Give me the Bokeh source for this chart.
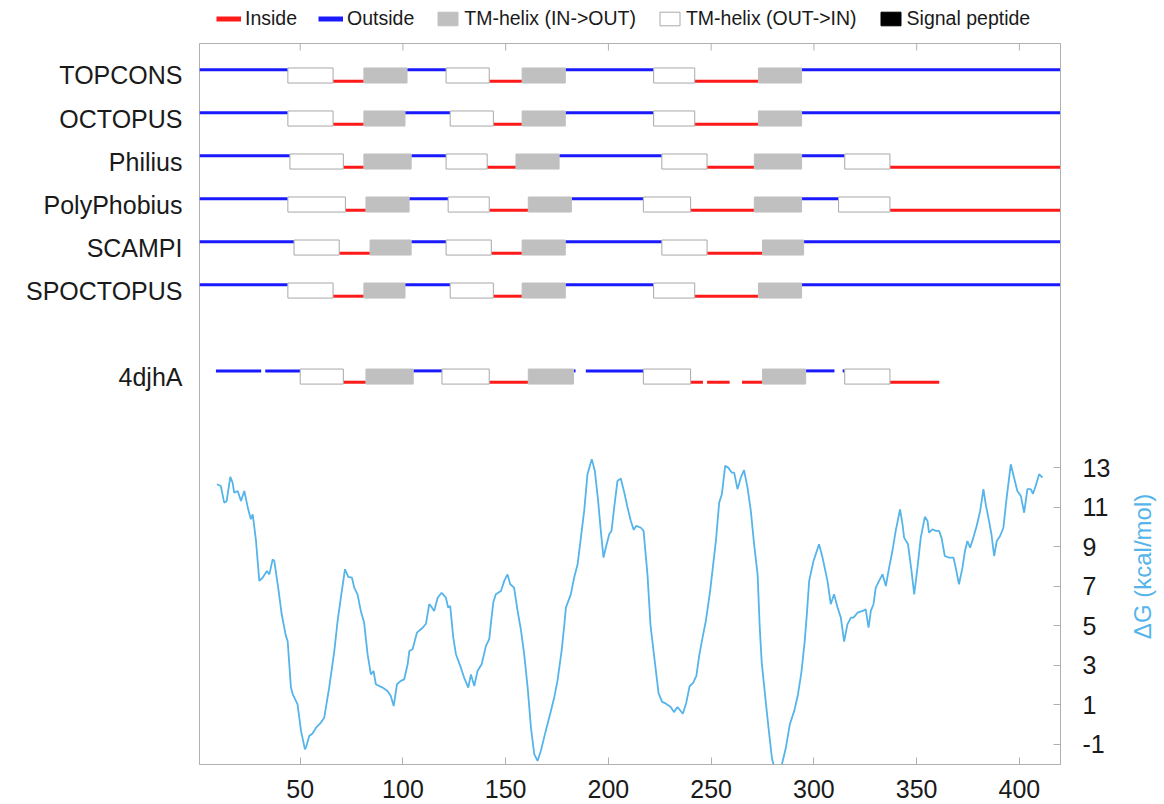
from math import pi
from bokeh.plotting import figure
from bokeh.layouts import column, row
from bokeh.models import (Range1d, LinearAxis, FixedTicker, Legend, LegendItem,
                          ColumnDataSource)
from bokeh.embed import file_html
from bokeh.resources import INLINE

# ---------------- data ----------------
SEQ_START, SEQ_END = 1, 420

methods = ["TOPCONS", "OCTOPUS", "Philius", "PolyPhobius", "SCAMPI", "SPOCTOPUS", "4djhA"]
method_rows = [0, 1, 2, 3, 4, 5, 7]

# states: o = outside, i = inside, U = TM-helix (IN->OUT), D = TM-helix (OUT->IN), - = no data
topcons_bounds = [1, 44, 66, 81, 102, 121, 142, 158, 179, 222, 242, 273, 294, 420]
topcons_states = "oDiUoDiUoDiUo"
octopus_bounds = [1, 44, 66, 81, 101, 123, 144, 158, 179, 222, 242, 273, 294, 420]
octopus_states = "oDiUoDiUoDiUo"
philius_bounds = [1, 45, 71, 81, 104, 121, 141, 155, 176, 226, 248, 271, 294, 315, 337, 420]
philius_states = "oDiUoDiUoDiUoDi"
polyphobius_bounds = [1, 44, 72, 82, 103, 122, 142, 161, 182, 217, 240, 271, 294, 312, 337, 420]
polyphobius_states = "oDiUoDiUoDiUoDi"
scampi_bounds = [1, 47, 69, 84, 104, 121, 143, 158, 179, 226, 248, 275, 295, 420]
scampi_states = "oDiUoDiUoDiUo"
spoctopus_bounds = [1, 44, 66, 81, 101, 123, 144, 158, 179, 222, 242, 273, 294, 420]
spoctopus_states = "oDiUoDiUoDiUo"
pdb_bounds = [1, 9, 31, 33, 50, 71, 82, 105, 119, 142, 161, 183, 184, 189, 217, 240,
              246, 248, 259, 265, 275, 296, 310, 314, 315, 337, 361]
pdb_states = "-o-oDiUoDiUo-oDi-i-iUo-oDi"

all_bounds = [topcons_bounds, octopus_bounds, philius_bounds, polyphobius_bounds,
              scampi_bounds, spoctopus_bounds, pdb_bounds]
all_states = [topcons_states, octopus_states, philius_states, polyphobius_states,
              scampi_states, spoctopus_states, pdb_states]

legend_labels = ["Inside", "Outside", "TM-helix (IN->OUT)", "TM-helix (OUT->IN)",
                 "Signal peptide"]
dg_title = "\u0394G (kcal/mol)"
dg_title_at = 8.0          # kcal/mol level where the right-hand title is centred

# Delta G curve (kcal/mol)
dg_pos = [9.5, 11.4, 13.0, 14.2, 16.0, 17.1, 17.9, 19.6, 21.2, 22.8, 24.7, 26.0, 26.9, 28.5,
          30.1, 31.7, 33.8, 35.0, 36.6, 37.4, 39.3, 41.0, 43.0, 43.9, 45.5, 46.5, 48.7, 50.4,
          52.3, 53.0, 54.4, 56.0, 57.7, 60.1, 61.7, 64.1, 66.6, 68.2, 69.8, 71.8, 73.4, 75.2,
          76.3, 77.9, 79.5, 81.1, 82.8, 84.4, 85.7, 86.8, 90.1, 92.5, 94.1, 95.5, 97.1, 99.0,
          100.6, 102.3, 103.1, 104.7, 106.8, 109.6, 111.2, 112.8, 113.6, 115.2, 116.9, 118.8,
          120.9, 122.0, 123.0, 124.5, 125.8, 128.2, 129.8, 131.8, 133.1, 134.7, 136.3, 138.3,
          140.4, 142.0, 143.0, 144.0, 145.2, 147.7, 149.3, 150.9, 152.2, 154.1, 155.8, 157.4,
          159.0, 160.7, 162.3, 163.9, 165.5, 167.1, 169.5, 172.0, 173.6, 175.2, 177.2, 178.5,
          179.3, 181.7, 183.3, 185.0, 186.6, 188.2, 189.8, 191.9, 193.4, 195.0, 196.3, 197.6,
          198.7, 200.4, 201.5, 202.8, 204.4, 206.0, 207.7, 209.3, 210.9, 212.3, 213.5, 215.8,
          217.1, 219.0, 220.5, 222.8, 224.4, 226.1, 227.8, 230.3, 231.9, 233.6, 236.2, 237.8,
          239.5, 241.2, 242.8, 244.2, 245.8, 247.4, 249.5, 252.3, 253.9, 255.2, 256.8, 258.3,
          260.0, 261.2, 262.8, 264.4, 266.0, 267.7, 269.3, 270.9, 272.6, 273.6, 274.6, 276.3,
          277.9, 279.6, 281.3, 282.8, 284.3, 286.3, 288.3, 290.5, 292.2, 293.9, 295.5, 296.5,
          297.7, 299.8, 302.5, 304.2, 306.6, 308.2, 309.8, 311.5, 313.1, 314.7, 316.3, 318.0,
          319.3, 321.2, 323.7, 325.2, 326.6, 327.7, 329.0, 330.1, 331.7, 333.4, 335.0, 336.6,
          338.2, 339.8, 341.9, 343.1, 343.9, 345.8, 347.5, 348.8, 350.4, 352.0, 354.0, 355.3,
          356.0, 357.7, 359.3, 360.9, 362.1, 363.7, 365.8, 367.9, 369.0, 370.6, 372.3, 373.5,
          374.7, 376.0, 377.6, 379.2, 380.9, 382.5, 383.6, 384.9, 386.4, 387.7, 389.0, 390.6,
          392.2, 393.8, 395.8, 397.4, 399.0, 400.7, 402.3, 403.9, 405.5, 406.6, 407.9, 409.6,
          411.2]
dg_val = [12.16, 12.07, 11.23, 11.30, 12.53, 12.24, 11.73, 11.82, 11.31, 11.82, 10.89, 10.39,
          10.64, 9.29, 7.27, 7.43, 7.77, 7.60, 8.36, 8.28, 6.93, 5.58, 4.50, 4.23, 1.87, 1.50,
          1.03, -0.32, -1.25, -1.10, -0.58, -0.45, -0.16, 0.10, 0.35, 1.87, 3.72, 5.24, 6.42,
          7.86, 7.47, 7.43, 6.93, 6.59, 5.75, 5.16, 3.56, 2.54, 2.71, 2.04, 1.87, 1.70, 1.45,
          0.94, 2.04, 2.21, 2.29, 3.05, 3.72, 3.81, 4.65, 4.90, 5.10, 6.09, 6.00, 5.75, 6.42,
          6.67, 6.42, 5.92, 6.00, 4.40, 3.56, 2.88, 2.37, 1.87, 2.54, 1.95, 2.71, 3.05, 3.98,
          4.32, 5.30, 6.20, 6.59, 6.76, 7.27, 7.60, 7.10, 6.93, 5.75, 4.80, 3.56, 1.87, -0.16,
          -1.50, -1.84, -1.34, -0.32, 0.69, 1.36, 2.21, 3.72, 5.00, 5.92, 6.59, 7.43, 8.11,
          9.46, 10.81, 12.67, 13.43, 12.83, 11.31, 9.80, 8.45, 8.95, 9.63, 9.80, 10.98, 12.33,
          12.45, 11.75, 10.98, 10.30, 9.85, 10.05, 9.96, 9.80, 7.60, 5.00, 2.98, 1.59, 1.15,
          1.07, 0.89, 0.63, 0.89, 0.55, 1.07, 1.94, 2.11, 2.46, 3.50, 4.40, 5.24, 6.76, 9.29,
          11.23, 11.65, 13.09, 13.00, 12.75, 12.75, 11.91, 12.49, 12.87, 11.99, 10.81, 9.12,
          7.60, 5.00, 3.15, 1.42, -0.15, -1.72, -2.40, -2.40, -2.07, -1.20, 0.02, 0.72, 1.50,
          2.63, 4.20, 5.50, 7.27, 8.28, 9.12, 8.45, 7.27, 6.09, 6.59, 5.92, 5.41, 4.20, 5.07,
          5.41, 5.41, 5.66, 5.75, 5.83, 4.90, 5.75, 6.09, 6.93, 7.27, 7.60, 7.01, 7.94, 8.78,
          9.80, 10.89, 10.14, 9.46, 9.12, 7.77, 6.59, 7.94, 9.46, 10.51, 10.30, 9.71, 9.88,
          9.80, 9.80, 9.46, 8.53, 8.45, 8.45, 7.94, 7.10, 7.94, 8.78, 9.29, 8.95, 9.46, 10.05,
          10.81, 11.91, 11.15, 10.47, 9.63, 8.53, 9.29, 9.54, 9.96, 11.48, 13.17, 12.49, 11.82,
          11.57, 10.72, 11.91, 11.91, 11.68, 12.07, 12.67, 12.49]

x_ticks = [50, 100, 150, 200, 250, 300, 350, 400]
dg_ticks = [-1, 1, 3, 5, 7, 9, 11, 13]

# ---------------- styling ----------------
FONT = "Liberation Sans"
TXT = "#1a1a1a"
RED = "#ff1a1a"
BLUE = "#1a1aff"
GRAY_FILL = "#c0c0c0"
BOX_LINE = "#a8a8a8"
DG_COLOR = "#55b4ea"
FRAME = "#b0b0b0"
LINE_OFF = 0.132     # half distance between outside / inside line (track units)
BOX_HALF = 0.175
DG_LO, DG_HI = -2.02, 34.46
FRAME_H = 721
TICK_LEN = 7

W = 1164
LEG_H = 42
MAIN_H = 804 - LEG_H
SIDE_W = 44               # strip that carries the right-hand axis title
MAIN_W = W - SIDE_W
BORDER_L = 199
BORDER_R_MAIN = MAIN_W - 1060

# ---------------- legend strip ----------------
lg = figure(width=W, height=LEG_H, output_backend="svg", toolbar_location=None,
            x_range=Range1d(0, 1), y_range=Range1d(0, 1),
            x_axis_location=None, y_axis_location=None, min_border=0,
            min_border_left=BORDER_L, min_border_right=W - 1060)
lg.grid.visible = False
lg.outline_line_color = None
off = dict(x0=[2], x1=[3], y=[2])           # legend proxies, outside the visible strip
offq = dict(left=[2], right=[3], top=[3], bottom=[2])
lr_in = lg.segment(x0="x0", y0="y", x1="x1", y1="y", source=ColumnDataSource(off),
                   line_color=RED, line_width=5)
lr_out = lg.segment(x0="x0", y0="y", x1="x1", y1="y", source=ColumnDataSource(off),
                    line_color=BLUE, line_width=5)
lr_up = lg.quad(left="left", right="right", top="top", bottom="bottom",
                source=ColumnDataSource(offq), fill_color=GRAY_FILL, line_color=GRAY_FILL)
lr_dn = lg.quad(left="left", right="right", top="top", bottom="bottom",
                source=ColumnDataSource(offq), fill_color="white", line_color=BOX_LINE)
lr_sp = lg.quad(left="left", right="right", top="top", bottom="bottom",
                source=ColumnDataSource(offq), fill_color="black", line_color="black")
legend = Legend(items=[LegendItem(label=t, renderers=[r]) for t, r in
                       zip(legend_labels, [lr_in, lr_out, lr_up, lr_dn, lr_sp])],
                orientation="horizontal", location=(17, 12),
                label_text_font=FONT, label_text_font_size="19.5px", label_text_color=TXT,
                glyph_width=25, glyph_height=17, label_standoff=4, spacing=21,
                label_height=17, padding=0, margin=0,
                border_line_color=None, background_fill_alpha=0)
lg.add_layout(legend)

# ---------------- main plot ----------------
dg_range = Range1d(DG_LO, DG_HI)
p = figure(width=MAIN_W, height=MAIN_H, output_backend="svg", toolbar_location=None,
           x_range=Range1d(SEQ_START, SEQ_END), y_range=dg_range,
           y_axis_location="right", min_border_left=BORDER_L,
           min_border_right=BORDER_R_MAIN, min_border_top=1, min_border_bottom=40)
p.grid.visible = False
p.outline_line_color = FRAME
p.extra_y_ranges = {"tracks": Range1d(start=16.02, end=-0.744)}

out_s = dict(x0=[], x1=[], y=[])
in_s = dict(x0=[], x1=[], y=[])
up_b = dict(left=[], right=[], top=[], bottom=[])
dn_b = dict(left=[], right=[], top=[], bottom=[])
for r_i, bounds, states in zip(method_rows, all_bounds, all_states):
    for k, s in enumerate(states):
        a, b = bounds[k], bounds[k + 1]
        if s == "o":
            out_s["x0"].append(a); out_s["x1"].append(b); out_s["y"].append(r_i - LINE_OFF)
        elif s == "i":
            in_s["x0"].append(a); in_s["x1"].append(b); in_s["y"].append(r_i + LINE_OFF)
        elif s in "UD":
            d = up_b if s == "U" else dn_b
            d["left"].append(a); d["right"].append(b)
            d["top"].append(r_i - BOX_HALF); d["bottom"].append(r_i + BOX_HALF)

p.segment(x0="x0", y0="y", x1="x1", y1="y", source=ColumnDataSource(out_s),
          line_color=BLUE, line_width=3, y_range_name="tracks")
p.segment(x0="x0", y0="y", x1="x1", y1="y", source=ColumnDataSource(in_s),
          line_color=RED, line_width=3, y_range_name="tracks")
p.quad(left="left", right="right", top="top", bottom="bottom",
       source=ColumnDataSource(up_b), fill_color=GRAY_FILL, line_color=GRAY_FILL,
       line_width=1, y_range_name="tracks")
p.quad(left="left", right="right", top="top", bottom="bottom",
       source=ColumnDataSource(dn_b), fill_color="white", line_color=BOX_LINE,
       line_width=1, y_range_name="tracks")

p.line(dg_pos, dg_val, line_color=DG_COLOR, line_width=1.8)

# mirrored tick marks along the top edge
tick_dy = TICK_LEN * (DG_HI - DG_LO) / FRAME_H
p.segment(x0=x_ticks, x1=x_ticks, y0=[DG_HI] * len(x_ticks),
          y1=[DG_HI - tick_dy] * len(x_ticks), line_color=FRAME, line_width=1)

# right axis (Delta G)
ra = p.yaxis[0]
ra.ticker = FixedTicker(ticks=dg_ticks)
ra.major_label_overrides = {t: str(t) for t in dg_ticks}
ra.major_tick_in = TICK_LEN
ra.major_tick_out = 0
ra.minor_tick_line_color = None
ra.axis_line_color = FRAME
ra.major_tick_line_color = FRAME
ra.major_label_text_font = FONT
ra.major_label_text_font_size = "25px"
ra.major_label_text_color = TXT
ra.major_label_standoff = 22

# bottom axis
ba = p.xaxis[0]
ba.ticker = FixedTicker(ticks=x_ticks)
ba.major_tick_in = TICK_LEN
ba.major_tick_out = 0
ba.minor_tick_line_color = None
ba.axis_line_color = FRAME
ba.major_tick_line_color = FRAME
ba.major_label_text_font = FONT
ba.major_label_text_font_size = "25px"
ba.major_label_text_color = TXT
ba.major_label_standoff = 15

# left axis carrying the method names
la = LinearAxis(y_range_name="tracks", ticker=FixedTicker(ticks=method_rows),
                major_label_overrides={r: m for r, m in zip(method_rows, methods)},
                major_tick_in=0, major_tick_out=0, minor_tick_line_color=None,
                axis_line_color=None, major_label_text_font=FONT,
                major_label_text_font_size="25px", major_label_text_color=TXT,
                major_label_standoff=17)
p.add_layout(la, "left")

# ---------------- right strip with the Delta G title ----------------
side = figure(width=SIDE_W, height=MAIN_H, output_backend="svg", toolbar_location=None,
              x_range=Range1d(0, 1), y_range=dg_range,
              x_axis_location=None, y_axis_location=None, min_border_left=0,
              min_border_right=0, min_border_top=1, min_border_bottom=40)
side.grid.visible = False
side.outline_line_color = None
side.text(x=[0.5], y=[dg_title_at], text=[dg_title], angle=pi / 2,
          text_align="center", text_baseline="middle", text_font={"value": FONT},
          text_font_size={"value": "24px"}, text_color=DG_COLOR)

page = column(lg, row(p, side, spacing=0), spacing=0)
open("out.html", "w").write(file_html(page, INLINE))
